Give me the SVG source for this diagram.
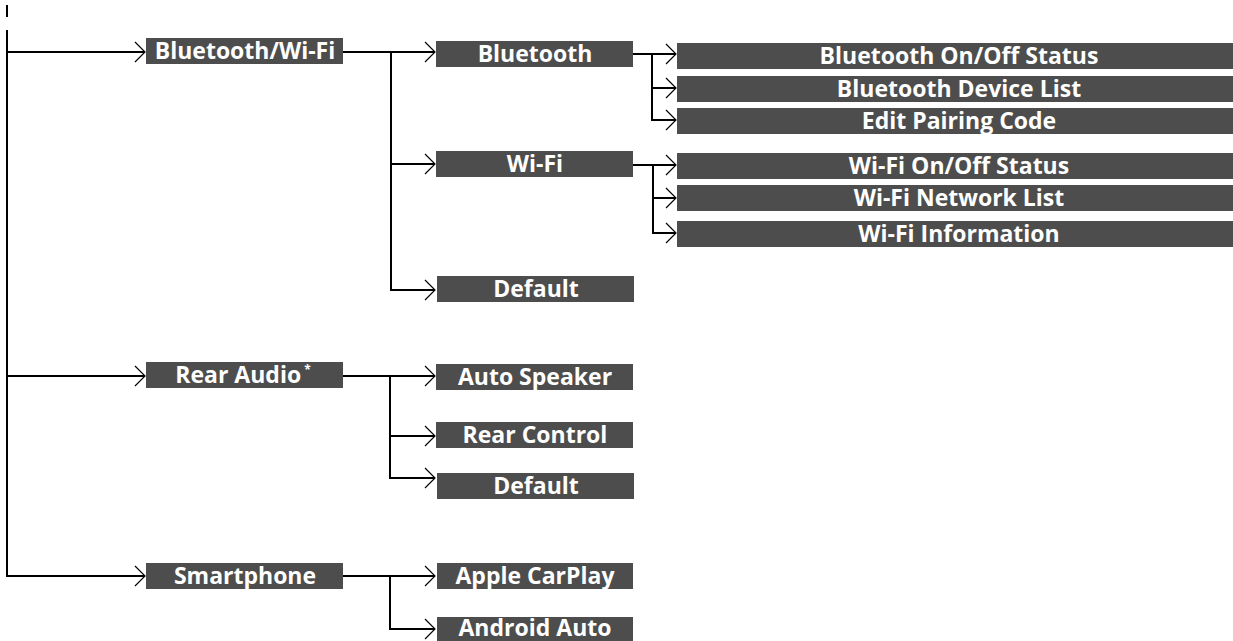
<svg xmlns="http://www.w3.org/2000/svg" width="1233" height="641" viewBox="0 0 1233 641">
<style>
.box{fill:#4d4d4d}
.t{font-family:"Open Sans","Noto Sans","Liberation Sans",sans-serif;font-weight:bold;font-size:23px;fill:#ffffff;text-anchor:middle}
.ln{fill:none;stroke:#000;stroke-width:2}
.ar{fill:none;stroke:#000;stroke-width:2;marker-end:url(#ah)}
</style>
<defs>
<marker id="ah" markerUnits="userSpaceOnUse" viewBox="-11 -11 12 22" refX="0" refY="0" markerWidth="12" markerHeight="22" orient="auto" overflow="visible">
<polyline points="-10,-10 0,0 -10,10" fill="none" stroke="#000" stroke-width="1.2"/>
</marker>
</defs>
<rect width="1233" height="641" fill="#ffffff"/>
<g id="connectors">
<line class="ln" x1="7" y1="5" x2="7" y2="17" stroke="#555"/>
<line class="ln" x1="7" y1="30" x2="7" y2="577"/>
<path class="ar" d="M6,52 H145"/>
<path class="ar" d="M6,376 H145"/>
<path class="ar" d="M6,576 H145"/>
<path class="ar" d="M343,52 H435"/>
<line class="ln" x1="391" y1="52" x2="391" y2="291"/>
<path class="ar" d="M390,164 H435"/>
<path class="ar" d="M390,290 H435"/>
<path class="ar" d="M327,376 H435"/>
<line class="ln" x1="390" y1="376" x2="390" y2="479"/>
<path class="ar" d="M389,436 H435"/>
<path class="ar" d="M389,478 H435"/>
<path class="ar" d="M343,576 H435"/>
<line class="ln" x1="390" y1="576" x2="390" y2="630"/>
<path class="ar" d="M389,629 H435"/>
<path class="ar" d="M633,54 H676"/>
<line class="ln" x1="652" y1="54" x2="652" y2="121"/>
<path class="ar" d="M651,88 H676"/>
<path class="ar" d="M651,120 H676"/>
<path class="ar" d="M633,165 H676"/>
<line class="ln" x1="653" y1="165" x2="653" y2="234"/>
<path class="ar" d="M652,198 H676"/>
<path class="ar" d="M652,233 H676"/>
</g>
<g id="n-bluetooth-wifi"><rect class="box" x="146" y="38" width="197" height="26"/><text class="t" x="245" y="59">Bluetooth/Wi-Fi</text></g>
<g id="n-rear-audio"><rect class="box" x="146" y="362" width="197" height="26"/><text class="t" x="243" y="383">Rear Audio<tspan font-size="12" dx="3" dy="-9">*</tspan></text></g>
<g id="n-smartphone"><rect class="box" x="146" y="563" width="197" height="26"/><text class="t" x="245" y="584">Smartphone</text></g>
<g id="n-bluetooth"><rect class="box" x="436" y="41" width="197" height="26"/><text class="t" x="535" y="62">Bluetooth</text></g>
<g id="n-wifi"><rect class="box" x="436" y="151" width="197" height="26"/><text class="t" x="535" y="172">Wi-Fi</text></g>
<g id="n-default1"><rect class="box" x="437" y="276" width="197" height="26"/><text class="t" x="536" y="297">Default</text></g>
<g id="n-auto-speaker"><rect class="box" x="436" y="364" width="197" height="26"/><text class="t" x="535" y="385">Auto Speaker</text></g>
<g id="n-rear-control"><rect class="box" x="436" y="422" width="197" height="26"/><text class="t" x="535" y="443">Rear Control</text></g>
<g id="n-default2"><rect class="box" x="437" y="473" width="197" height="26"/><text class="t" x="536" y="494">Default</text></g>
<g id="n-apple-carplay"><rect class="box" x="437" y="563" width="196" height="26"/><text class="t" x="535" y="584">Apple CarPlay</text></g>
<g id="n-android-auto"><rect class="box" x="437" y="617" width="196" height="26"/><text class="t" x="535" y="636">Android Auto</text></g>
<g id="n-bt-onoff"><rect class="box" x="677" y="43" width="556" height="26"/><text class="t" x="959" y="64">Bluetooth On/Off Status</text></g>
<g id="n-bt-devices"><rect class="box" x="677" y="76" width="556" height="26"/><text class="t" x="959" y="97">Bluetooth Device List</text></g>
<g id="n-pairing"><rect class="box" x="677" y="108" width="556" height="26"/><text class="t" x="959" y="129">Edit Pairing Code</text></g>
<g id="n-wifi-onoff"><rect class="box" x="677" y="153" width="556" height="26"/><text class="t" x="959" y="174">Wi-Fi On/Off Status</text></g>
<g id="n-wifi-networks"><rect class="box" x="677" y="185" width="556" height="26"/><text class="t" x="959" y="206">Wi-Fi Network List</text></g>
<g id="n-wifi-info"><rect class="box" x="677" y="221" width="556" height="26"/><text class="t" x="959" y="242">Wi-Fi Information</text></g>
</svg>
